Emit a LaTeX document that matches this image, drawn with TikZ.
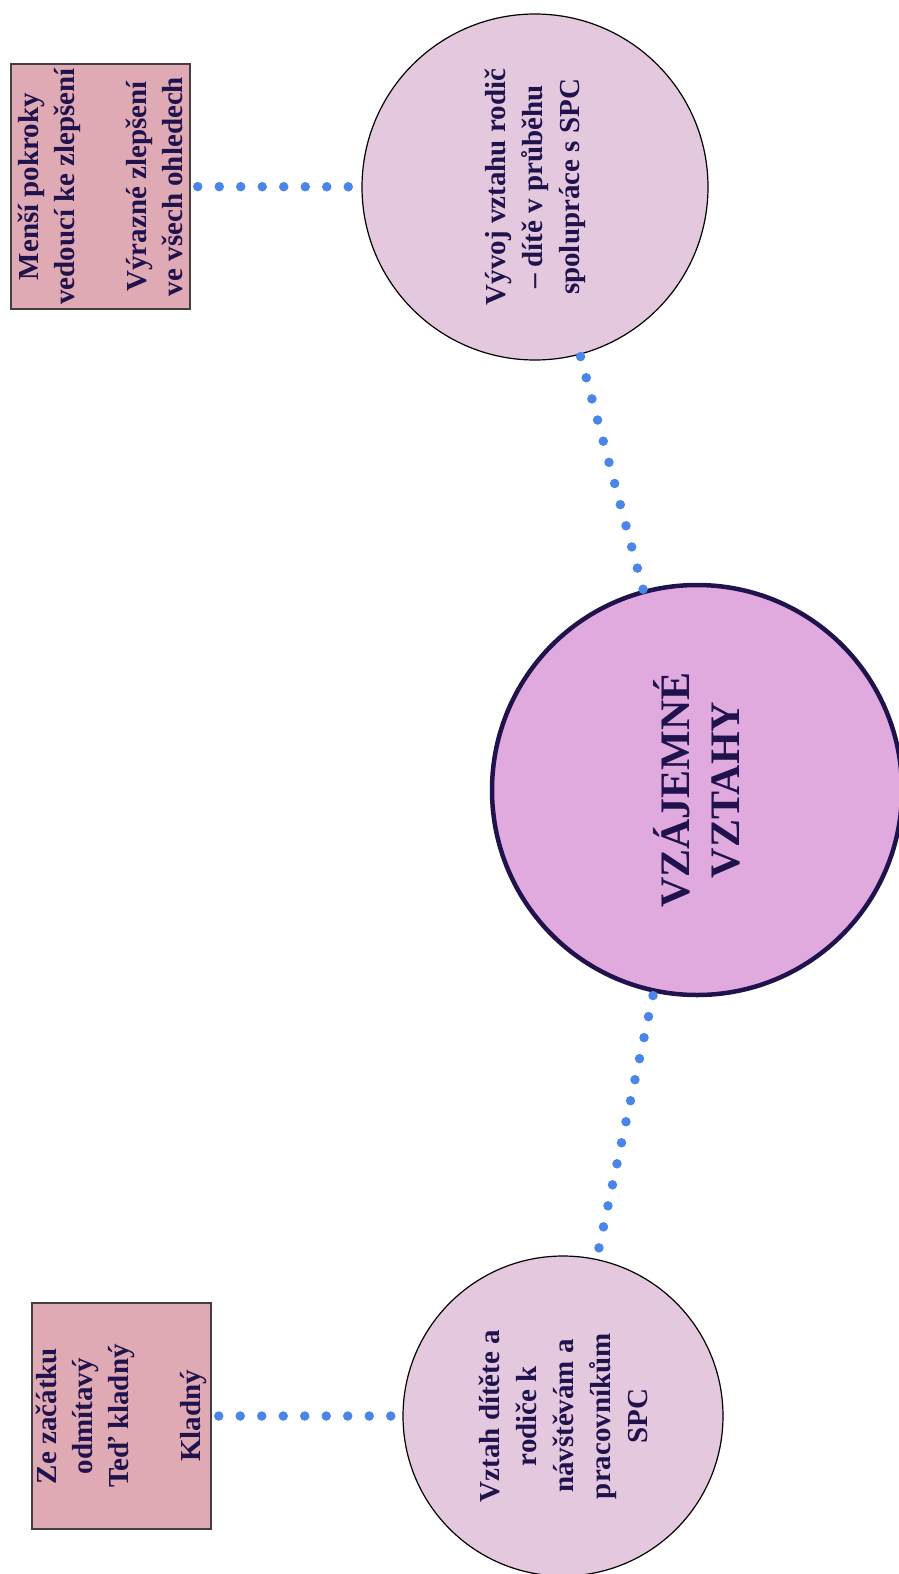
\documentclass[tikz,border=0pt]{standalone}
\usepackage{fontspec}
\setmainfont{Liberation Serif}
\usepackage{xcolor}
\usetikzlibrary{positioning}
\definecolor{inkpurple}{HTML}{20124D}
\definecolor{notepink}{HTML}{E0AAB4}
\definecolor{topicpink}{HTML}{E4C8DE}
\definecolor{hubpink}{HTML}{E0AADE}
\definecolor{dotblue}{HTML}{4A86E8}
\tikzset{
  note/.style={
    rectangle, draw=black!75, line width=1.5pt, fill=notepink, rotate=90,
    minimum height=179pt, inner sep=0pt, align=center, text=inkpurple,
    font=\bfseries\fontsize{29}{36}\selectfont
  },
  topic/.style={
    circle, draw=black, line width=1.2pt, fill=topicpink, rotate=90,
    inner sep=0pt, align=center, text=inkpurple,
    font=\bfseries\fontsize{29}{37}\selectfont
  },
  link/.style={
    dotblue, line width=9.5pt, line cap=round, dash pattern=on 0pt off 21.5pt
  }
}

\begin{document}
\begin{tikzpicture}[
  x=1pt, y=1pt,
  hubNode/.style={circle, draw=inkpurple, line width=4.5pt, fill=hubpink, rotate=90,
    minimum size=410pt, align=center, text=inkpurple,
    font=\bfseries\fontsize{42}{50}\selectfont}
]
\useasboundingbox (0,0) rectangle (898,-1574);
\node[hubNode] (hub) at (697,-790) {VZÁJEMNÉ\\VZTAHY};
\node[topic, minimum size=346pt] (vyvoj) at (535,-187) {Vývoj vztahu rodič\\– dítě v průběhu\\spolupráce s SPC};
\node[topic, minimum size=320pt] (vztah) at (563,-1416) {Vztah dítěte a\\rodiče k\\návštěvám a\\pracovníkům\\SPC};
\node[note, minimum width=245pt] (pokroky) at (100.5,-186.5) {Menší pokroky\\vedoucí ke zlepšení\\[36pt]Výrazné zlepšení\\ve všech ohledech};
\node[note, minimum width=226pt] (kladny) at (121.5,-1416) {Ze začátku\\odmítavý\\Teď kladný\\[36pt]Kladný};
% dotted links
\draw[link, shorten <=7pt, shorten >=6pt] (pokroky) -- (vyvoj);
\draw[link, shorten <=7pt, shorten >=6pt] (kladny) -- (vztah);
\draw[link, dash pattern=on 0pt off 21.9pt, shorten <=2pt] (vyvoj) -- (hub);
\draw[link, shorten <=3pt] (hub) -- (vztah);
\end{tikzpicture}
\end{document}
